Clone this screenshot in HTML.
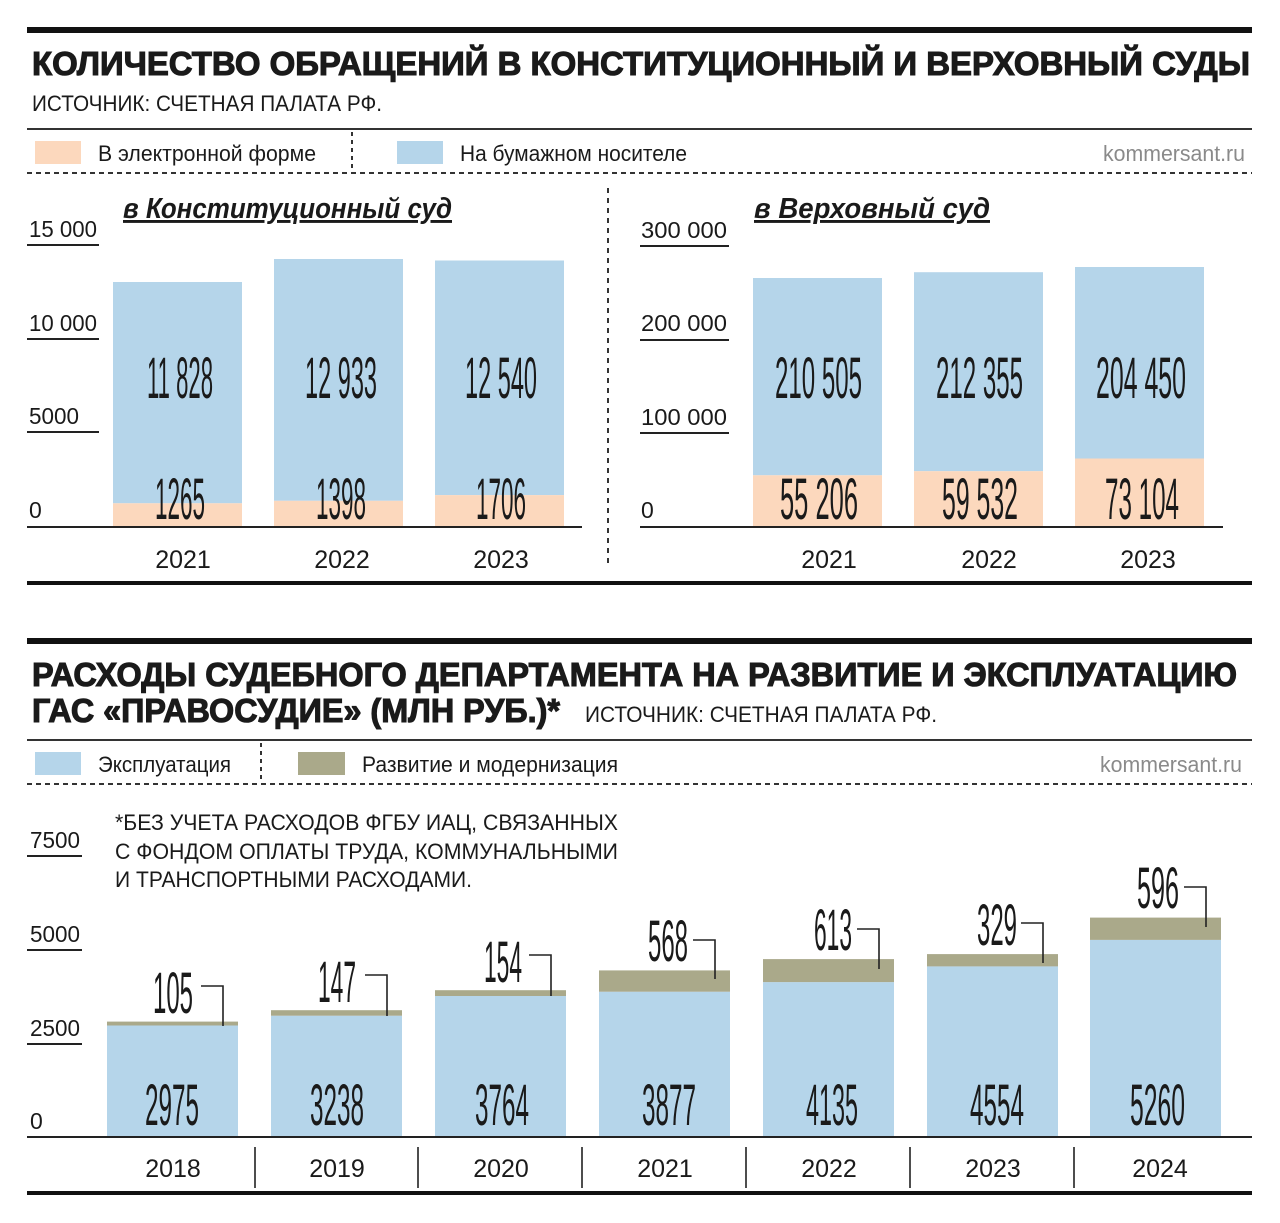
<!DOCTYPE html>
<html><head><meta charset="utf-8"><style>
html,body{margin:0;padding:0;background:#fff;}
svg{display:block;}
text{font-family:"Liberation Sans","DejaVu Sans",sans-serif;fill:#1a1a1a;}
.t{font-weight:bold;font-size:33px;stroke:#1a1a1a;stroke-width:1.1px;}
.s{font-size:22px;}
.ax{font-size:23px;}
.n{font-size:58px;font-weight:normal;}
.yr{font-size:25px;}
.g{fill:#8a8a8a;}
</style></head><body>
<svg width="1280" height="1223" viewBox="0 0 1280 1223" xmlns="http://www.w3.org/2000/svg">
<rect x="27" y="27" width="1225" height="6" fill="#111"/>
<text class="t" x="32" y="75" textLength="1218" lengthAdjust="spacingAndGlyphs">КОЛИЧЕСТВО ОБРАЩЕНИЙ В КОНСТИТУЦИОННЫЙ И ВЕРХОВНЫЙ СУДЫ</text>
<text class="s" x="32" y="111" textLength="350" lengthAdjust="spacingAndGlyphs">ИСТОЧНИК: СЧЕТНАЯ ПАЛАТА РФ.</text>
<rect x="27" y="128" width="1225" height="2" fill="#333"/>
<rect x="35" y="141" width="46" height="23" fill="#fcd8bd"/>
<text class="s" x="98" y="161" textLength="218" lengthAdjust="spacingAndGlyphs">В электронной форме</text>
<line x1="352" y1="132" x2="352" y2="170" stroke="#333" stroke-width="2" stroke-dasharray="4,4"/>
<rect x="397" y="141" width="46" height="23" fill="#b5d5ea"/>
<text class="s" x="460" y="161" textLength="227" lengthAdjust="spacingAndGlyphs">На бумажном носителе</text>
<text class="s g" x="1103" y="161" textLength="142" lengthAdjust="spacingAndGlyphs">kommersant.ru</text>
<line x1="27" y1="173" x2="1252" y2="173" stroke="#333" stroke-width="2" stroke-dasharray="5,4"/>

<text x="123" y="218" font-size="29" font-weight="bold" font-style="italic" text-decoration="underline" textLength="329" lengthAdjust="spacingAndGlyphs">в Конституционный суд</text>
<text class="ax" x="29" y="237" textLength="68" lengthAdjust="spacingAndGlyphs">15 000</text>
<rect x="27" y="244" width="72" height="2" fill="#222"/>
<text class="ax" x="29" y="331" textLength="68" lengthAdjust="spacingAndGlyphs">10 000</text>
<rect x="27" y="338" width="72" height="2" fill="#222"/>
<text class="ax" x="29" y="424" textLength="50" lengthAdjust="spacingAndGlyphs">5000</text>
<rect x="27" y="431" width="72" height="2" fill="#222"/>
<text class="ax" x="29" y="518">0</text>
<g>
<rect x="113" y="282" width="129" height="221.3" fill="#b5d5ea"/><rect x="113" y="503.3" width="129" height="23.7" fill="#fcd8bd"/>
<rect x="274" y="259" width="129" height="241.8" fill="#b5d5ea"/><rect x="274" y="500.8" width="129" height="26.2" fill="#fcd8bd"/>
<rect x="435" y="260.5" width="129" height="234.6" fill="#b5d5ea"/><rect x="435" y="495.1" width="129" height="31.9" fill="#fcd8bd"/>
</g>
<rect x="27" y="526" width="555" height="2" fill="#222"/>
<text class="n" x="147" y="398" textLength="66" lengthAdjust="spacingAndGlyphs">11 828</text>
<text class="n" x="305" y="398" textLength="72" lengthAdjust="spacingAndGlyphs">12 933</text>
<text class="n" x="465" y="398" textLength="72" lengthAdjust="spacingAndGlyphs">12 540</text>
<text class="n" x="155" y="519" textLength="50" lengthAdjust="spacingAndGlyphs">1265</text>
<text class="n" x="316" y="519" textLength="50" lengthAdjust="spacingAndGlyphs">1398</text>
<text class="n" x="476" y="519" textLength="50" lengthAdjust="spacingAndGlyphs">1706</text>
<text class="yr" x="183" y="568" text-anchor="middle">2021</text>
<text class="yr" x="342" y="568" text-anchor="middle">2022</text>
<text class="yr" x="501" y="568" text-anchor="middle">2023</text>

<line x1="608" y1="188" x2="608" y2="566" stroke="#333" stroke-width="2" stroke-dasharray="5,5"/>

<text x="754" y="218" font-size="29" font-weight="bold" font-style="italic" text-decoration="underline" textLength="236" lengthAdjust="spacingAndGlyphs">в Верховный суд</text>
<text class="ax" x="641" y="238" textLength="86" lengthAdjust="spacingAndGlyphs">300 000</text>
<rect x="640" y="245" width="89" height="2" fill="#222"/>
<text class="ax" x="641" y="331" textLength="86" lengthAdjust="spacingAndGlyphs">200 000</text>
<rect x="640" y="339" width="89" height="2" fill="#222"/>
<text class="ax" x="641" y="425" textLength="86" lengthAdjust="spacingAndGlyphs">100 000</text>
<rect x="640" y="432" width="89" height="2" fill="#222"/>
<text class="ax" x="641" y="518">0</text>
<rect x="753" y="278" width="129" height="197.3" fill="#b5d5ea"/><rect x="753" y="475.3" width="129" height="51.7" fill="#fcd8bd"/>
<rect x="914" y="272.2" width="129" height="199" fill="#b5d5ea"/><rect x="914" y="471.2" width="129" height="55.8" fill="#fcd8bd"/>
<rect x="1075" y="267" width="129" height="191.5" fill="#b5d5ea"/><rect x="1075" y="458.5" width="129" height="68.5" fill="#fcd8bd"/>
<rect x="640" y="526" width="583" height="2" fill="#222"/>
<text class="n" x="775" y="398" textLength="87" lengthAdjust="spacingAndGlyphs">210 505</text>
<text class="n" x="936" y="398" textLength="87" lengthAdjust="spacingAndGlyphs">212 355</text>
<text class="n" x="1096" y="398" textLength="90" lengthAdjust="spacingAndGlyphs">204 450</text>
<text class="n" x="780" y="519" textLength="78" lengthAdjust="spacingAndGlyphs">55 206</text>
<text class="n" x="942" y="519" textLength="76" lengthAdjust="spacingAndGlyphs">59 532</text>
<text class="n" x="1105" y="519" textLength="74" lengthAdjust="spacingAndGlyphs">73 104</text>
<text class="yr" x="829" y="568" text-anchor="middle">2021</text>
<text class="yr" x="989" y="568" text-anchor="middle">2022</text>
<text class="yr" x="1148" y="568" text-anchor="middle">2023</text>

<rect x="27" y="581" width="1225" height="4" fill="#111"/>

<rect x="27" y="638" width="1225" height="6" fill="#111"/>
<text class="t" x="32" y="686" textLength="1205" lengthAdjust="spacingAndGlyphs">РАСХОДЫ СУДЕБНОГО ДЕПАРТАМЕНТА НА РАЗВИТИЕ И ЭКСПЛУАТАЦИЮ</text>
<text class="t" x="32" y="722" textLength="528" lengthAdjust="spacingAndGlyphs">ГАС «ПРАВОСУДИЕ» (МЛН РУБ.)*</text>
<text class="s" x="585" y="722" textLength="352" lengthAdjust="spacingAndGlyphs">ИСТОЧНИК: СЧЕТНАЯ ПАЛАТА РФ.</text>
<rect x="27" y="739" width="1225" height="2" fill="#333"/>
<rect x="35" y="752" width="46" height="23" fill="#b5d5ea"/>
<text class="s" x="98" y="772" textLength="133" lengthAdjust="spacingAndGlyphs">Эксплуатация</text>
<line x1="261" y1="743" x2="261" y2="781" stroke="#333" stroke-width="2" stroke-dasharray="4,4"/>
<rect x="298" y="752" width="47" height="23" fill="#aaa98a"/>
<text class="s" x="362" y="772" textLength="256" lengthAdjust="spacingAndGlyphs">Развитие и модернизация</text>
<text class="s g" x="1100" y="772" textLength="142" lengthAdjust="spacingAndGlyphs">kommersant.ru</text>
<line x1="27" y1="784" x2="1252" y2="784" stroke="#333" stroke-width="2" stroke-dasharray="5,4"/>

<text class="s" x="115" y="830" textLength="503" lengthAdjust="spacingAndGlyphs">*БЕЗ УЧЕТА РАСХОДОВ ФГБУ ИАЦ, СВЯЗАННЫХ</text>
<text class="s" x="115" y="859" textLength="503" lengthAdjust="spacingAndGlyphs">С ФОНДОМ ОПЛАТЫ ТРУДА, КОММУНАЛЬНЫМИ</text>
<text class="s" x="115" y="887" textLength="357" lengthAdjust="spacingAndGlyphs">И ТРАНСПОРТНЫМИ РАСХОДАМИ.</text>

<text class="ax" x="30" y="848" textLength="50" lengthAdjust="spacingAndGlyphs">7500</text>
<rect x="27" y="855" width="55" height="2" fill="#222"/>
<text class="ax" x="30" y="942" textLength="50" lengthAdjust="spacingAndGlyphs">5000</text>
<rect x="27" y="949" width="55" height="2" fill="#222"/>
<text class="ax" x="30" y="1036" textLength="50" lengthAdjust="spacingAndGlyphs">2500</text>
<rect x="27" y="1043" width="55" height="2" fill="#222"/>
<text class="ax" x="30" y="1129">0</text>

<g fill="#b5d5ea">
<rect x="107" y="1025.5" width="131" height="111.5"/>
<rect x="271" y="1015.7" width="131" height="121.3"/>
<rect x="435" y="996" width="131" height="141"/>
<rect x="599" y="991.7" width="131" height="145.3"/>
<rect x="763" y="982.1" width="131" height="154.9"/>
<rect x="927" y="966.4" width="131" height="170.6"/>
<rect x="1090" y="939.9" width="131" height="197.1"/>
</g>
<g fill="#aaa98a">
<rect x="107" y="1021.6" width="131" height="3.9"/>
<rect x="271" y="1010.2" width="131" height="5.5"/>
<rect x="435" y="990.2" width="131" height="5.8"/>
<rect x="599" y="970.4" width="131" height="21.3"/>
<rect x="763" y="959.1" width="131" height="23"/>
<rect x="927" y="954.1" width="131" height="12.3"/>
<rect x="1090" y="917.6" width="131" height="22.3"/>
</g>
<rect x="27" y="1136" width="1225" height="2" fill="#222"/>

<g fill="none" stroke="#222" stroke-width="1.6">
<polyline points="201,986 223,986 223,1026"/>
<polyline points="365,975 387,975 387,1016"/>
<polyline points="529,955 551,955 551,996"/>
<polyline points="693,940 715,940 715,979"/>
<polyline points="857,929 879,929 879,969"/>
<polyline points="1021,923 1043,923 1043,963"/>
<polyline points="1184,887 1206,887 1206,927"/>
</g>
<g>
<text class="n" x="153" y="1013" textLength="40" lengthAdjust="spacingAndGlyphs">105</text>
<text class="n" x="318" y="1002" textLength="38" lengthAdjust="spacingAndGlyphs">147</text>
<text class="n" x="484" y="982" textLength="38" lengthAdjust="spacingAndGlyphs">154</text>
<text class="n" x="648" y="961" textLength="40" lengthAdjust="spacingAndGlyphs">568</text>
<text class="n" x="814" y="950" textLength="38" lengthAdjust="spacingAndGlyphs">613</text>
<text class="n" x="977" y="945" textLength="40" lengthAdjust="spacingAndGlyphs">329</text>
<text class="n" x="1137" y="908" textLength="42" lengthAdjust="spacingAndGlyphs">596</text>
<text class="n" x="145" y="1125" textLength="54" lengthAdjust="spacingAndGlyphs">2975</text>
<text class="n" x="310" y="1125" textLength="54" lengthAdjust="spacingAndGlyphs">3238</text>
<text class="n" x="475" y="1125" textLength="54" lengthAdjust="spacingAndGlyphs">3764</text>
<text class="n" x="642" y="1125" textLength="54" lengthAdjust="spacingAndGlyphs">3877</text>
<text class="n" x="806" y="1125" textLength="52" lengthAdjust="spacingAndGlyphs">4135</text>
<text class="n" x="970" y="1125" textLength="54" lengthAdjust="spacingAndGlyphs">4554</text>
<text class="n" x="1130" y="1125" textLength="55" lengthAdjust="spacingAndGlyphs">5260</text>
</g>
<g stroke="#222" stroke-width="1.6">
<line x1="255" y1="1147" x2="255" y2="1188"/>
<line x1="418" y1="1147" x2="418" y2="1188"/>
<line x1="582" y1="1147" x2="582" y2="1188"/>
<line x1="746" y1="1147" x2="746" y2="1188"/>
<line x1="910" y1="1147" x2="910" y2="1188"/>
<line x1="1074" y1="1147" x2="1074" y2="1188"/>
</g>
<text class="yr" x="173" y="1177" text-anchor="middle">2018</text>
<text class="yr" x="337" y="1177" text-anchor="middle">2019</text>
<text class="yr" x="501" y="1177" text-anchor="middle">2020</text>
<text class="yr" x="665" y="1177" text-anchor="middle">2021</text>
<text class="yr" x="829" y="1177" text-anchor="middle">2022</text>
<text class="yr" x="993" y="1177" text-anchor="middle">2023</text>
<text class="yr" x="1160" y="1177" text-anchor="middle">2024</text>
<rect x="27" y="1191" width="1225" height="4" fill="#111"/>
</svg>
</body></html>
